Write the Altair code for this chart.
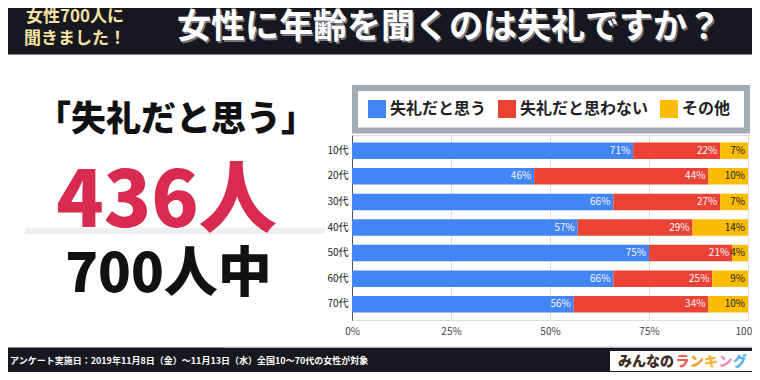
import altair as alt
import pandas as pd

# ---- data ----
ages = ["10代", "20代", "30代", "40代", "50代", "60代", "70代"]
cats = ["失礼だと思う", "失礼だと思わない", "その他"]
rude = [71, 46, 66, 57, 75, 66, 56]
not_rude = [22, 44, 27, 29, 21, 25, 34]
other = [7, 10, 7, 14, 4, 9, 10]
cat_colors = ["#4285f4", "#ea4335", "#fbbc04"]
x_ticks = [0, 25, 50, 75, 100]

rows = []
for i, a in enumerate(ages):
    for j, (c, vals) in enumerate(zip(cats, [rude, not_rude, other])):
        rows.append({"age": a, "cat": c, "value": vals[i], "order": j})
df = pd.DataFrame(rows)
one = pd.DataFrame({"k": [0]})

FONT = "Noto Sans CJK JP"
# plot-area origin in page coordinates (page has an 8px margin)
X0, Y0 = 352, 135
W, H = 396, 185
TOTAL_W, TOTAL_H = 744, 364


def box(x1, y1, x2, y2, color, **kw):
    return alt.Chart(one).mark_rect(color=color, **kw).encode(
        x=alt.value(x1 - X0), x2=alt.value(x2 - X0),
        y=alt.value(y1 - Y0), y2=alt.value(y2 - Y0))


def label(text, x, y, size, color, align="center", baseline="middle",
          weight="bold"):
    return alt.Chart(one).mark_text(
        align=align, baseline=baseline, fontSize=size, font=FONT,
        fontWeight=weight, color=color).encode(
        x=alt.value(x - X0), y=alt.value(y - Y0), text=alt.value(text))


y_enc = alt.Y("age:N", sort=ages, title=None,
              scale=alt.Scale(paddingInner=0.355, paddingOuter=0.29),
              axis=alt.Axis(domain=True, domainColor="#555555", ticks=False,
                            labelFontSize=10, labelColor="#222222",
                            labelPadding=4, labelFont=FONT))

base = alt.Chart(df).transform_stack(
    stack="value", groupby=["age"], as_=["v0", "v1"],
    sort=[alt.SortField("order", order="ascending")]
).transform_calculate(lab="datum.value + '%'")

bars = base.mark_bar().encode(
    x=alt.X("v0:Q", title=None, scale=alt.Scale(domain=[0, 100]),
            axis=alt.Axis(values=x_ticks, labelExpr="datum.value + '%'",
                          grid=True, gridColor="#dcdcdc", domain=False,
                          ticks=False, labelFlush=False, labelPadding=6,
                          labelFontSize=10, labelColor="#444444",
                          labelFont=FONT)),
    x2="v1:Q",
    y=y_enc,
    color=alt.Color("cat:N", scale=alt.Scale(domain=cats, range=cat_colors),
                    legend=alt.Legend(orient="none", legendX=16, legendY=-35,
                                      direction="horizontal", title=None,
                                      symbolType="square", symbolSize=324,
                                      symbolStrokeWidth=0, symbolOpacity=1,
                                      labelFontSize=16, labelFont=FONT,
                                      labelFontWeight="bold",
                                      labelColor="#222222",
                                      columnPadding=11, labelOffset=4,
                                      padding=0)),
)

texts = base.mark_text(align="right", baseline="middle", dx=-3,
                       fontSize=10, font=FONT).encode(
    x="v1:Q",
    y=y_enc,
    text="lab:N",
    color=alt.condition(alt.datum.cat == "その他", alt.value("#222222"),
                        alt.value("#f4f6ff")),
)

TITLE = "女性に年齢を聞くのは失礼ですか？"
layers = [
    # header / footer bars
    box(0, 0, 760, 54.5, "#17171f"),
    box(0, 347.5, 760, 380, "#17171f"),
    box(224, 346.5, 760, 347.5, "#d6d6d6"),
    # legend frame
    alt.Chart(one).mark_rect(fill="white", stroke="#a3abb5", strokeWidth=6).encode(
        x=alt.value(355 - X0), x2=alt.value(747 - X0),
        y=alt.value(88 - Y0), y2=alt.value(130.5 - Y0)),
    # separator line under big number
    box(25, 228, 325, 234, "#efeff3"),
    bars,
    texts,
    # header texts
    label("女性700人に", 75, 17, 17, "#f5e3a3"),
    label("聞きました！", 75, 38.5, 17, "#f5e3a3"),
    label(TITLE, 450.5, 29.5, 34, "#77777d"),
    label(TITLE, 449, 28, 34, "white"),
    # left panel
    label("「失礼だと思う」", 176, 120, 35, "#111111", weight=900),
    label("436人", 166.5, 227, 78, "#d92a4f", baseline="alphabetic", weight=900),
    label("700人中", 168.5, 292, 54, "#111111", baseline="alphabetic", weight=900),
    # footer
    label("アンケート実施日：2019年11月8日（金）〜11月13日（水）全国10〜70代の女性が対象",
          10, 361, 9, "white", align="left"),
    box(610, 351, 755, 371, "white"),
    label("みんなの", 618, 361.5, 14, "#3d2b1f", align="left", weight=900),
]
logo_chars = ["ラ", "ン", "キ", "ン", "グ"]
logo_cols = ["#ef5a4c", "#f39b2d", "#f6b73c", "#ef8fb3", "#58b8e6"]
for i, (ch, col) in enumerate(zip(logo_chars, logo_cols)):
    layers.append(label(ch, 675.5 + i * 14.3, 361.5, 14, col, align="left",
                        weight=900))

chart = alt.layer(*layers).properties(
    width=W, height=H,
    padding={"left": X0 - 8, "top": Y0 - 8,
             "right": TOTAL_W - (X0 - 8) - W,
             "bottom": TOTAL_H - (Y0 - 8) - H},
    autosize=alt.AutoSizeParams(type="none"),
    background="white",
).configure_view(stroke=None).configure(font=FONT)

chart.save("out.html", embed_options={"renderer": "svg", "actions": False})
